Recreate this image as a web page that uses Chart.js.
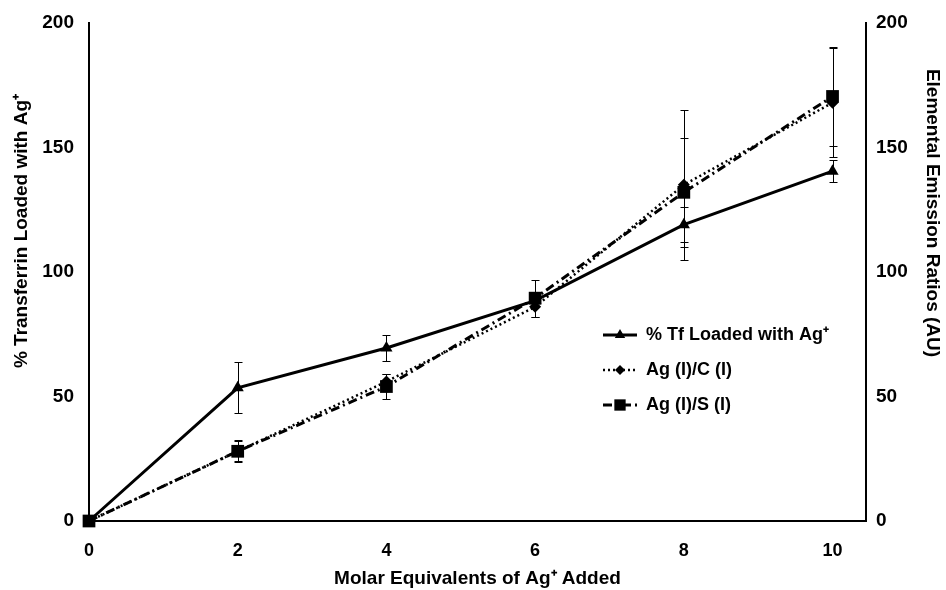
<!DOCTYPE html>
<html>
<head>
<meta charset="utf-8">
<script src="https://cdn.jsdelivr.net/npm/chart.js@4.4.1/dist/chart.umd.min.js"></script>
<style>
  html, body { margin: 0; padding: 0; background: #fff; }
</style>
</head>
<body>
<canvas id="chart" width="946" height="590"></canvas>
<script>
// x values (molar equivalents of Ag+ added)
const molarEq = [0, 2, 4, 6, 8, 10];
const xTicks = [0, 2, 4, 6, 8, 10];
const yTicks = [0, 50, 100, 150, 200];

// % Tf loaded with Ag+ (left axis)
const tfLoaded = [0, 53.5, 69.5, 88.5, 119, 140.5];
const tfErr = [0, 10.3, 5.2, 2, 7, 4.4];

// Ag (I)/C (I) ratio (right axis)
const agC = [0, 28, 56, 86, 135, 168];
const agCErr = [0, 4, 3, 4, 30, 22];

// Ag (I)/S (I) ratio (right axis)
const agS = [0, 28, 54, 89.5, 132, 170.5];
const agSErr = [0, 4.5, 5, 7.4, 22, 20];

const labels = ["% Tf Loaded with Ag\u207A", "Ag (I)/C (I)", "Ag (I)/S (I)"];
const axisTitles = {
    x: "Molar Equivalents of Ag\u207A Added",
    yLeft: "% Transferrin Loaded with Ag\u207A",
    yRight: "Elemental Emission Ratios (AU)"
};

const FONT = "'Liberation Sans', Arial, Helvetica, sans-serif";
const NARROW = "'Liberation Sans Narrow', 'Liberation Sans', Arial, sans-serif";

function toPoints(ys) {
    return molarEq.map((x, i) => ({ x: x, y: ys[i] }));
}

// draw a marker by hand (used for the legend)
function drawMarker(ctx, style, x, y, r) {
    ctx.beginPath();
    if (style === 'triangle') {
        ctx.moveTo(x, y - r);
        ctx.lineTo(x + r * 0.866, y + r * 0.5);
        ctx.lineTo(x - r * 0.866, y + r * 0.5);
    } else if (style === 'rectRot') {
        ctx.moveTo(x, y - r);
        ctx.lineTo(x + r, y);
        ctx.lineTo(x, y + r);
        ctx.lineTo(x - r, y);
    } else {
        const s = r * Math.SQRT1_2;
        ctx.rect(x - s, y - s, 2 * s, 2 * s);
    }
    ctx.closePath();
    ctx.fill();
}

// Barras de error
const errorBars = {
    id: 'errorBars',
    beforeDatasetsDraw(chart) {
        const ctx = chart.ctx;
        chart.data.datasets.forEach((ds, i) => {
            if (!ds.errors) return;
            const meta = chart.getDatasetMeta(i);
            const xs = chart.scales[meta.xAxisID];
            const ys = chart.scales[meta.yAxisID];
            ctx.save();
            ctx.strokeStyle = '#000';
            ctx.lineWidth = 1;
            ctx.setLineDash([]);
            ds.data.forEach((p, j) => {
                const e = ds.errors[j];
                if (!e) return;
                const x = Math.round(xs.getPixelForValue(p.x)) + 0.5;
                const yTop = Math.round(ys.getPixelForValue(p.y + e)) + 0.5;
                const yBot = Math.round(ys.getPixelForValue(p.y - e)) + 0.5;
                ctx.beginPath();
                ctx.moveTo(x, yTop); ctx.lineTo(x, yBot);
                ctx.moveTo(x - 4, yTop); ctx.lineTo(x + 4, yTop);
                ctx.moveTo(x - 4, yBot); ctx.lineTo(x + 4, yBot);
                ctx.stroke();
            });
            ctx.restore();
        });
    }
};

// Leyenda y títulos de ejes dibujados a mano
const extras = {
    id: 'extras',
    afterDraw(chart) {
        const ctx = chart.ctx;
        const area = chart.chartArea;
        ctx.save();
        ctx.fillStyle = '#000';
        ctx.strokeStyle = '#000';

        // legend
        const lx = area.left + 514;
        const rowY = [area.top + 312, area.top + 347, area.top + 382];
        ctx.font = "bold 18px " + FONT;
        ctx.textBaseline = 'middle';
        ctx.textAlign = 'left';
        chart.data.datasets.forEach((ds, i) => {
            const y = rowY[i];
            ctx.lineWidth = ds.borderWidth;
            ctx.setLineDash(ds.borderDash || []);
            ctx.beginPath();
            ctx.moveTo(lx, y);
            ctx.lineTo(lx + 34, y);
            ctx.stroke();
            ctx.setLineDash([]);
            drawMarker(ctx, ds.pointStyle, lx + 17, y, ds.legendRadius);
            ctx.fillText(ds.label, lx + 43, y);
        });

        // y axis titles
        ctx.font = "bold 19px " + FONT;
        ctx.textAlign = 'center';
        ctx.save();
        ctx.translate(22, 231);
        ctx.rotate(-Math.PI / 2);
        ctx.fillText(axisTitles.yLeft, 0, 0);
        ctx.restore();

        ctx.save();
        ctx.translate(932, 213);
        ctx.rotate(Math.PI / 2);
        ctx.fillText(axisTitles.yRight, 0, 0);
        ctx.restore();

        ctx.restore();
    }
};

function fitY(width) {
    return scale => {
        scale.width = width;
        scale.paddingTop = 0;
        scale.paddingBottom = 0;
    };
}

const ctx = document.getElementById("chart").getContext("2d");
new Chart(ctx, {
    type: 'line',
    data: {
        datasets: [
            {
                label: labels[0],
                data: toPoints(tfLoaded),
                errors: tfErr,
                yAxisID: 'y',
                borderColor: '#000',
                backgroundColor: '#000',
                borderWidth: 3,
                pointStyle: 'triangle',
                pointRadius: 7,
                legendRadius: 6,
                pointBorderWidth: 0,
                tension: 0,
                clip: false
            },
            {
                label: labels[1],
                data: toPoints(agC),
                errors: agCErr,
                yAxisID: 'y2',
                borderColor: '#000',
                backgroundColor: '#000',
                borderWidth: 2.5,
                borderDash: [2, 3],
                pointStyle: 'rectRot',
                pointRadius: 6,
                legendRadius: 5,
                pointBorderWidth: 0,
                tension: 0,
                clip: false
            },
            {
                label: labels[2],
                data: toPoints(agS),
                errors: agSErr,
                yAxisID: 'y2',
                borderColor: '#000',
                backgroundColor: '#000',
                borderWidth: 3,
                borderDash: [9, 4, 2, 4],
                pointStyle: 'rect',
                pointRadius: 9,
                legendRadius: 8,
                pointBorderWidth: 0,
                tension: 0,
                clip: false
            }
        ]
    },
    options: {
        responsive: false,
        animation: false,
        layout: { padding: { top: 23, left: 0, right: 0, bottom: 0 } },
        plugins: {
            legend: { display: false },
            tooltip: { enabled: false }
        },
        scales: {
            x: {
                type: 'linear',
                position: 'bottom',
                min: 0,
                max: 10.45,
                afterBuildTicks: scale => { scale.ticks = xTicks.map(v => ({ value: v })); },
                afterFit: scale => {
                    scale.height = 69;
                    scale.paddingLeft = 0;
                    scale.paddingRight = 0;
                },
                grid: { display: false, drawTicks: false },
                border: { display: true, color: '#000', width: 2 },
                ticks: {
                    color: '#000',
                    padding: 19,
                    font: { family: NARROW, size: 18, weight: 'bold' }
                },
                title: {
                    display: true,
                    text: axisTitles.x,
                    color: '#000',
                    padding: { top: 9, bottom: 0 },
                    font: { family: NARROW, size: 19, weight: 'bold' }
                }
            },
            y: {
                type: 'linear',
                position: 'left',
                min: 0,
                max: 200,
                afterBuildTicks: scale => { scale.ticks = yTicks.map(v => ({ value: v })); },
                afterFit: fitY(89),
                grid: { display: false, drawTicks: false },
                border: { display: true, color: '#000', width: 2 },
                ticks: {
                    color: '#000',
                    padding: 15,
                    font: { family: FONT, size: 19, weight: 'bold' }
                }
            },
            y2: {
                type: 'linear',
                position: 'right',
                min: 0,
                max: 200,
                afterBuildTicks: scale => { scale.ticks = yTicks.map(v => ({ value: v })); },
                afterFit: fitY(80),
                grid: { display: false, drawTicks: false },
                border: { display: true, color: '#000', width: 2 },
                ticks: {
                    color: '#000',
                    padding: 10,
                    font: { family: FONT, size: 19, weight: 'bold' }
                }
            }
        }
    },
    plugins: [errorBars, extras]
});
</script>
</body>
</html>
